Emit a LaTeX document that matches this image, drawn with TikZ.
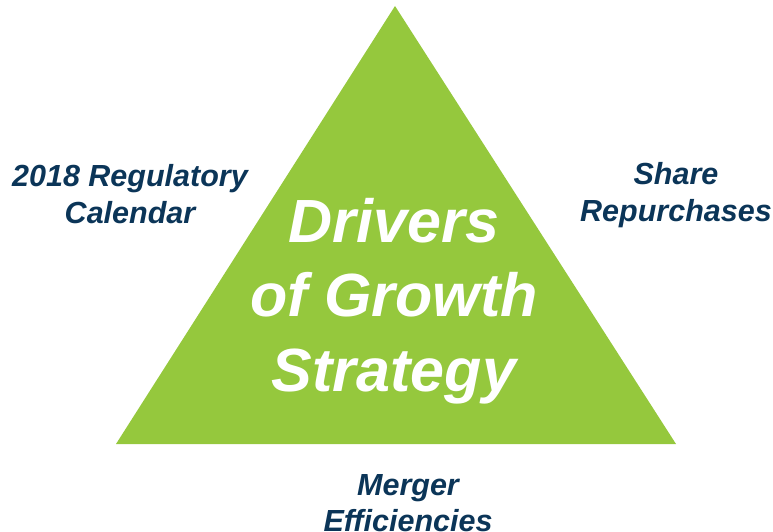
\documentclass[tikz,border=0pt]{standalone}
\usepackage{fontspec}
\setmainfont{Liberation Sans}
\definecolor{leafgreen}{HTML}{95C83D}
\definecolor{navy}{HTML}{0B3558}
\tikzset{
  sidelabel/.style={text=navy, align=center, font=\fontsize{30.5}{36.5}\selectfont\bfseries\itshape, inner sep=0pt},
  biglabel/.style={text=white, align=center, font=\fontsize{61}{74.5}\selectfont\bfseries\itshape, inner sep=0pt}
}
\begin{document}
\begin{tikzpicture}[x=1pt,y=-1pt]
\useasboundingbox (0,0) rectangle (773,532);
\fill[leafgreen] (395,6) coordinate (apex) -- (676,444) coordinate (br) -- (116,444) coordinate (bl) -- cycle;
\node[biglabel] (core) at (394,301) {Drivers\\of Growth\\Strategy};
\node[sidelabel] (reg) at (130,194) {2018 Regulatory\\Calendar};
\node[sidelabel] (share) at (676,195) {Share\\Repurchases};
\node[sidelabel] (merger) at (408,503) {Merger\\Efficiencies};
\end{tikzpicture}
\end{document}
